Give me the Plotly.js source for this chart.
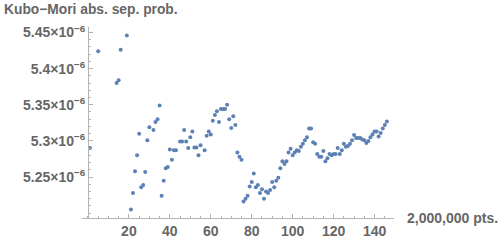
<!DOCTYPE html>
<html>
<head>
<meta charset="utf-8">
<script src="https://cdn.plot.ly/plotly-3.0.1.min.js"></script>
<style>html,body{margin:0;padding:0;background:#fff;}#chart{width:500px;height:242px;}</style>
</head>
<body>
<div id="chart"></div>
<script>
// x positions (units of 2,000,000 pts.)
const xs = [1,5,14,15,16,19,
  21,22,23,24,25,26,27,28,29,30,
  32,33,34,35,36,37,38,39,40,41,42,43,
  45,46,47,48,49,50,51,52,53,54,55,
  57,58,59,60,61,62,63,64,65,66,
  67,68,69,70,71,72,73,74,75,76,
  77,78,79,80,81,82,83,84,85,86,
  87,88,89,90,91,92,93,94,95,96,
  97,98,99,100,101,102,103,104,105,106,
  107,108,109,110,111,112,113,114,115,116,
  117,118,119,120,121,122,123,124,125,126,
  127,128,129,130,131,132,133,134,135,136,
  137,138,139,140,141,142,143,144,145,146];
// Kubo-Mori abs. sep. prob. in units of 1e-6
const probs = [5.290,5.424,5.380,5.384,5.426,5.446,
  5.205,5.228,5.258,5.280,5.310,5.236,5.239,5.257,5.301,5.319,
  5.315,5.326,5.330,5.349,5.224,5.245,5.262,5.264,5.288,5.274,5.287,5.287,
  5.299,5.299,5.315,5.299,5.290,5.305,5.313,5.291,5.291,5.280,5.294,
  5.287,5.307,5.313,5.309,5.328,5.336,5.341,5.326,5.344,5.344,
  5.344,5.350,5.330,5.318,5.334,5.322,5.284,5.278,5.274,5.216,
  5.220,5.224,5.237,5.243,5.255,5.236,5.239,5.228,5.233,5.220,
  5.230,5.228,5.232,5.243,5.236,5.245,5.249,5.262,5.272,5.268,
  5.272,5.284,5.289,5.280,5.284,5.287,5.286,5.292,5.296,5.301,
  5.305,5.317,5.317,5.298,5.296,5.282,5.278,5.278,5.286,5.272,
  5.276,5.282,5.280,5.282,5.282,5.290,5.282,5.287,5.296,5.292,
  5.293,5.296,5.301,5.308,5.304,5.304,5.304,5.302,5.301,5.297,
  5.300,5.305,5.309,5.313,5.313,5.306,5.311,5.317,5.322,5.327];
const xTickVals = [20,40,60,80,100,120,140];
const xTickText = ['20','40','60','80','100','120','140'];
const yTickVals = [5.25,5.3,5.35,5.4,5.45];
const yTickText = ['5.25×10<sup>−6</sup>','5.3×10<sup>−6</sup>','5.35×10<sup>−6</sup>','5.4×10<sup>−6</sup>','5.45×10<sup>−6</sup>'];
const titleText = '<b>Kubo−Mori abs. sep. prob.</b>';
const xLabelText = '<b>2,000,000 pts.</b>';

const axisColor = '#b3b3b3';
const textColor = '#666666';
const fontFam = 'Liberation Sans, Arial, sans-serif';
const xRange = [-2.9, 149.5];

const trace = {
  x: xs, y: probs, type: 'scatter', mode: 'markers',
  marker: {color: '#5e81b5', size: 4},
  hoverinfo: 'skip', cliponaxis: true
};

const layout = {
  width: 500, height: 242,
  margin: {l: 82, r: 105.5, t: 27, b: 24, pad: 0},
  paper_bgcolor: '#fff', plot_bgcolor: '#fff',
  font: {family: fontFam, size: 14, color: textColor},
  showlegend: false,
  xaxis: {
    range: xRange, showgrid: false, zeroline: false,
    showline: true, linecolor: axisColor, linewidth: 1,
    tickmode: 'array', tickvals: xTickVals, ticktext: xTickText,
    ticks: 'inside', ticklen: 4, tickcolor: axisColor,
    minor: {tickmode: 'linear', tick0: 0, dtick: 5, ticks: 'inside', ticklen: 2, tickcolor: axisColor, showgrid: false},
    tickfont: {family: fontFam, size: 14, color: textColor, weight: 'bold'},
    fixedrange: true
  },
  yaxis: {
    range: [5.1933, 5.4576], showgrid: false, zeroline: false,
    anchor: 'free', position: (0 - xRange[0]) / (xRange[1] - xRange[0]),
    showline: true, linecolor: axisColor, linewidth: 1,
    tickmode: 'array', tickvals: yTickVals, ticktext: yTickText,
    ticks: 'inside', ticklen: 4, tickcolor: axisColor,
    minor: {tickmode: 'linear', tick0: 5.2, dtick: 0.01, ticks: 'inside', ticklen: 2, tickcolor: axisColor, showgrid: false},
    tickfont: {family: fontFam, size: 14, color: textColor, weight: 'bold'},
    fixedrange: true
  },
  annotations: [
    {text: titleText, xref: 'paper', yref: 'paper', x: (2 - 82) / 312.5, y: (218 - 10) / 191,
     xanchor: 'left', yanchor: 'middle', showarrow: false,
     font: {family: fontFam, size: 13.8, color: textColor}},
    {text: xLabelText, xref: 'paper', yref: 'paper', x: (406 - 82) / 312.5, y: 0,
     xanchor: 'left', yanchor: 'middle', showarrow: false,
     font: {family: fontFam, size: 14, color: textColor}}
  ]
};

Plotly.newPlot('chart', [trace], layout, {staticPlot: true, displayModeBar: false});
</script>
</body>
</html>
